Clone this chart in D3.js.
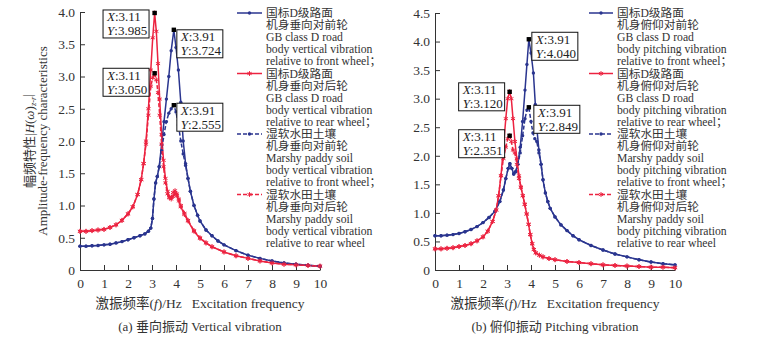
<!DOCTYPE html>
<html>
<head>
<meta charset="utf-8">
<script src="https://cdn.jsdelivr.net/npm/d3@7"></script>
<style>
  body { margin: 0; background: #fff; }
  text { font-family: "Liberation Serif", "Noto Sans CJK SC", serif; fill: #333; }
</style>
</head>
<body>
<div id="chart"></div>
<script>
// ---- data: [frequency Hz, amplitude] ----
// (a) vertical vibration
const vertGbFront = [[0,0.37],[0.25,0.37],[0.5,0.375],[0.75,0.38],[1,0.39],[1.25,0.4],[1.5,0.42],[1.75,0.44],[2,0.47],[2.25,0.5],[2.5,0.53],[2.7,0.56],[2.85,0.6],[2.95,0.65],[3.02,0.8],[3.08,1.1],[3.15,1.35],[3.22,1.45],[3.3,1.6],[3.4,1.95],[3.5,2.3],[3.6,2.65],[3.7,3.0],[3.8,3.4],[3.91,3.724],[4.0,3.45],[4.1,3.1],[4.2,2.6],[4.3,2.0],[4.4,1.65],[4.5,1.42],[4.6,1.22],[4.75,1.0],[4.9,0.85],[5,0.76],[5.25,0.62],[5.5,0.53],[5.75,0.45],[6,0.39],[6.5,0.3],[7,0.23],[7.5,0.18],[8,0.14],[8.5,0.11],[9,0.09],[9.5,0.075],[10,0.06]];
const vertGbRear = [[0,0.6],[0.25,0.6],[0.5,0.61],[0.75,0.62],[1,0.63],[1.25,0.66],[1.5,0.7],[1.75,0.77],[2,0.87],[2.2,0.98],[2.4,1.17],[2.55,1.4],[2.65,1.65],[2.75,2.0],[2.85,2.5],[2.95,3.1],[3.03,3.6],[3.11,3.985],[3.18,3.7],[3.25,3.2],[3.32,2.65],[3.4,2.1],[3.48,1.7],[3.56,1.42],[3.65,1.22],[3.72,1.13],[3.8,1.1],[3.88,1.14],[3.96,1.19],[4.04,1.15],[4.12,1.07],[4.2,0.98],[4.35,0.86],[4.5,0.76],[4.75,0.6],[5,0.49],[5.25,0.42],[5.5,0.36],[6,0.28],[6.5,0.22],[7,0.18],[7.5,0.14],[8,0.11],[8.5,0.09],[9,0.08],[9.5,0.07],[10,0.06]];
const vertSoilFront = [[0,0.37],[0.25,0.37],[0.5,0.375],[0.75,0.38],[1,0.39],[1.25,0.4],[1.5,0.42],[1.75,0.44],[2,0.47],[2.25,0.5],[2.5,0.53],[2.7,0.56],[2.85,0.6],[2.95,0.65],[3.02,0.8],[3.08,1.1],[3.15,1.35],[3.22,1.45],[3.3,1.6],[3.4,1.85],[3.5,2.1],[3.6,2.3],[3.7,2.43],[3.8,2.5],[3.91,2.555],[4.0,2.45],[4.1,2.25],[4.2,2.0],[4.3,1.8],[4.4,1.62],[4.5,1.42],[4.6,1.22],[4.75,1.0],[4.9,0.85],[5,0.76],[5.25,0.62],[5.5,0.53],[5.75,0.45],[6,0.39],[6.5,0.3],[7,0.23],[7.5,0.18],[8,0.14],[8.5,0.11],[9,0.09],[9.5,0.075],[10,0.06]];
const vertSoilRear = [[0,0.6],[0.25,0.6],[0.5,0.61],[0.75,0.62],[1,0.63],[1.25,0.66],[1.5,0.7],[1.75,0.77],[2,0.87],[2.2,0.98],[2.4,1.17],[2.55,1.4],[2.65,1.65],[2.75,1.95],[2.85,2.4],[2.95,2.85],[3.03,2.98],[3.11,3.05],[3.18,2.95],[3.25,2.75],[3.32,2.4],[3.4,1.95],[3.48,1.6],[3.56,1.35],[3.65,1.18],[3.72,1.12],[3.8,1.13],[3.88,1.2],[3.96,1.23],[4.04,1.18],[4.12,1.1],[4.2,1.0],[4.35,0.88],[4.5,0.77],[4.75,0.61],[5,0.5],[5.25,0.42],[5.5,0.36],[6,0.28],[6.5,0.22],[7,0.18],[7.5,0.14],[8,0.11],[8.5,0.09],[9,0.08],[9.5,0.07],[10,0.06]];

// (b) pitching vibration
const pitchGbFront = [[0,0.6],[0.25,0.6],[0.5,0.61],[0.75,0.62],[1,0.64],[1.25,0.67],[1.5,0.71],[1.75,0.76],[2,0.83],[2.25,0.92],[2.5,1.03],[2.7,1.2],[2.85,1.4],[2.95,1.6],[3.05,1.78],[3.12,1.86],[3.2,1.78],[3.28,1.68],[3.36,1.72],[3.45,1.85],[3.55,2.15],[3.65,2.6],[3.75,3.15],[3.83,3.6],[3.91,4.04],[4.0,3.8],[4.1,3.45],[4.18,2.9],[4.25,2.45],[4.33,2.1],[4.42,1.85],[4.5,1.58],[4.6,1.35],[4.7,1.2],[4.8,1.08],[5,0.93],[5.25,0.79],[5.5,0.69],[5.75,0.6],[6,0.53],[6.5,0.43],[7,0.35],[7.5,0.28],[8,0.23],[8.5,0.18],[9,0.14],[9.5,0.11],[10,0.09]];
const pitchGbRear = [[0,0.37],[0.25,0.37],[0.5,0.38],[0.75,0.39],[1,0.41],[1.25,0.43],[1.5,0.46],[1.75,0.51],[2,0.58],[2.2,0.68],[2.4,0.85],[2.55,1.05],[2.65,1.3],[2.75,1.65],[2.85,2.15],[2.95,2.65],[3.03,3.0],[3.11,3.12],[3.18,3.0],[3.25,2.65],[3.33,2.25],[3.41,1.95],[3.5,1.65],[3.58,1.45],[3.66,1.3],[3.74,1.15],[3.82,0.98],[3.9,0.8],[3.97,0.62],[4.05,0.46],[4.12,0.36],[4.2,0.3],[4.35,0.26],[4.5,0.23],[4.75,0.2],[5,0.18],[5.5,0.15],[6,0.13],[6.5,0.11],[7,0.09],[7.5,0.08],[8,0.07],[8.5,0.06],[9,0.05],[9.5,0.05],[10,0.04]];
const pitchSoilFront = [[0,0.6],[0.25,0.6],[0.5,0.61],[0.75,0.62],[1,0.64],[1.25,0.67],[1.5,0.71],[1.75,0.76],[2,0.83],[2.25,0.92],[2.5,1.03],[2.7,1.2],[2.85,1.4],[2.95,1.6],[3.05,1.78],[3.12,1.86],[3.2,1.78],[3.28,1.68],[3.36,1.72],[3.45,1.85],[3.55,2.05],[3.65,2.35],[3.75,2.65],[3.83,2.8],[3.91,2.849],[4.0,2.6],[4.08,2.4],[4.16,2.3],[4.24,2.25],[4.33,2.05],[4.42,1.85],[4.5,1.58],[4.6,1.35],[4.7,1.2],[4.8,1.08],[5,0.93],[5.25,0.79],[5.5,0.69],[5.75,0.6],[6,0.53],[6.5,0.43],[7,0.35],[7.5,0.28],[8,0.23],[8.5,0.18],[9,0.14],[9.5,0.11],[10,0.09]];
const pitchSoilRear = [[0,0.37],[0.25,0.37],[0.5,0.38],[0.75,0.39],[1,0.41],[1.25,0.43],[1.5,0.46],[1.75,0.51],[2,0.58],[2.2,0.68],[2.4,0.85],[2.55,1.05],[2.65,1.3],[2.75,1.65],[2.85,1.95],[2.95,2.15],[3.03,2.3],[3.11,2.351],[3.18,2.25],[3.25,2.1],[3.33,2.05],[3.41,1.85],[3.5,1.6],[3.58,1.45],[3.66,1.3],[3.74,1.15],[3.82,0.98],[3.9,0.8],[3.97,0.62],[4.05,0.46],[4.12,0.36],[4.2,0.3],[4.35,0.26],[4.5,0.23],[4.75,0.2],[5,0.18],[5.5,0.15],[6,0.13],[6.5,0.11],[7,0.09],[7.5,0.08],[8,0.07],[8.5,0.06],[9,0.05],[9.5,0.05],[10,0.04]];

// tick values
const xTicks = [0, 1, 2, 3, 4, 5, 6, 7, 8, 9, 10];
const vertYTicks = [0, 0.5, 1.0, 1.5, 2.0, 2.5, 3.0, 3.5, 4.0];
const pitchYTicks = [0, 0.5, 1.0, 1.5, 2.0, 2.5, 3.0, 3.5, 4.0, 4.5];

// legend texts
const vertLegend = [
  ["国标D级路面", "机身垂向对前轮", "GB class D road", "body vertical vibration", "relative to front wheel；"],
  ["国标D级路面", "机身垂向对后轮", "GB class D road", "body vertical vibration", "relative to rear wheel；"],
  ["湿软水田土壤", "机身垂向对前轮", "Marshy paddy soil", "body vertical vibration", "relative to front wheel；"],
  ["湿软水田土壤", "机身垂向对后轮", "Marshy paddy soil", "body vertical vibration", "relative to rear wheel"]
];
const pitchLegend = [
  ["国标D级路面", "机身俯仰对前轮", "GB class D road", "body pitching vibration", "relative to front wheel；"],
  ["国标D级路面", "机身俯仰对后轮", "GB class D road", "body pitching vibration", "relative to rear wheel；"],
  ["湿软水田土壤", "机身俯仰对前轮", "Marshy paddy soil", "body pitching vibration", "relative to front wheel；"],
  ["湿软水田土壤", "机身俯仰对后轮", "Marshy paddy soil", "body pitching vibration", "relative to rear wheel"]
];

// data tips (peak readouts)
const vertTips = [[3.11, 3.985], [3.91, 3.724], [3.11, 3.050], [3.91, 2.555]];
const pitchTips = [[3.91, 4.040], [3.11, 3.120], [3.91, 2.849], [3.11, 2.351]];

const blue = "#2a358f";
const red = "#ec2340";

const svg = d3.select("#chart").append("svg")
    .attr("width", 772)
    .attr("height", 339);

// panel layout
const panels = [
  {
    series: [vertGbFront, vertGbRear, vertSoilFront, vertSoilRear],
    legend: vertLegend, tips: vertTips, yTicks: vertYTicks, yMax: 4,
    left: 80, right: 320, top: 12, legendLine: [237, 262], legendText: 266,
    // box offsets from the tip point: [dx, dy], dx<0 means box to the left
    tipBox: [[-51.6, -3], [3, 0], [-51.6, -5], [3, -2]],
    caption: "(a) 垂向振动 Vertical vibration"
  },
  {
    series: [pitchGbFront, pitchGbRear, pitchSoilFront, pitchSoilRear],
    legend: pitchLegend, tips: pitchTips, yTicks: pitchYTicks, yMax: 4.5,
    left: 435, right: 675, top: 13, legendLine: [589, 613], legendText: 617,
    tipBox: [[3, -7], [-51, -9], [5, -2], [-51, -6]],
    caption: "(b) 俯仰振动 Pitching vibration"
  }
];
const bottom = 270;
const seriesStyle = [
  { color: blue, dash: null, mark: "dot" },
  { color: red, dash: null, mark: "star" },
  { color: blue, dash: "4,2", mark: "dot" },
  { color: red, dash: "4,2", mark: "star" }
];

const dotSym = d3.symbol(d3.symbolCircle, 9);
const starSym = d3.symbol(d3.symbolAsterisk, 16);

function drawMark(g, style, px, py) {
  if (style.mark === "dot") {
    g.append("path").attr("d", dotSym()).attr("transform", `translate(${px},${py})`)
      .attr("fill", style.color);
  } else {
    g.append("path").attr("d", starSym()).attr("transform", `translate(${px},${py})`)
      .attr("fill", "none").attr("stroke", style.color).attr("stroke-width", 1);
  }
}

panels.forEach(p => {
  const x = d3.scaleLinear().domain([0, 10]).range([p.left, p.right]);
  const y = d3.scaleLinear().domain([0, p.yMax]).range([bottom, p.top]);
  const g = svg.append("g");

  // axes, ticks pointing inward
  const xAxis = g.append("g")
      .attr("transform", `translate(0,${bottom})`)
      .call(d3.axisBottom(x).tickValues(xTicks).tickSizeInner(-5).tickSizeOuter(0)
        .tickPadding(8).tickFormat(d3.format("d")));
  const yAxis = g.append("g")
      .attr("transform", `translate(${p.left},0)`)
      .call(d3.axisLeft(y).tickValues(p.yTicks).tickSizeInner(-5).tickSizeOuter(0)
        .tickPadding(5).tickFormat(d => d === 0 ? "0" : d3.format(".1f")(d)));
  [xAxis, yAxis].forEach(a => {
    a.attr("font-family", null).attr("font-size", 13.5).style("color", "#333");
    a.selectAll("line, path").attr("stroke-width", 1);
  });

  // curves
  const line = d3.line().x(d => x(d[0])).y(d => y(d[1]));
  p.series.forEach((s, i) => {
    const st = seriesStyle[i];
    const sg = g.append("g");
    sg.append("path").datum(s)
      .attr("d", line)
      .attr("fill", "none")
      .attr("stroke", st.color)
      .attr("stroke-width", 1.5)
      .attr("stroke-dasharray", st.dash);
    s.forEach(d => drawMark(sg, st, x(d[0]), y(d[1])));
  });

  // legend
  const lineH = 12.1;
  p.legend.forEach((entry, i) => {
    const st = seriesStyle[i];
    const cy = 13 + i * 5 * lineH;
    g.append("line")
      .attr("x1", p.legendLine[0]).attr("x2", p.legendLine[1])
      .attr("y1", cy).attr("y2", cy)
      .attr("stroke", st.color).attr("stroke-width", 1.5)
      .attr("stroke-dasharray", st.dash);
    drawMark(g, st, (p.legendLine[0] + p.legendLine[1]) / 2, cy);
    entry.forEach((t, j) => {
      g.append("text")
        .attr("x", p.legendText)
        .attr("y", cy + j * lineH)
        .attr("dy", "0.35em")
        .attr("font-size", 11.7)
        .text(t);
    });
  });

  // data tips
  p.tips.forEach((t, i) => {
    const px = x(t[0]), py = y(t[1]);
    const bx = px + p.tipBox[i][0], by = py + p.tipBox[i][1];
    const tg = g.append("g");
    tg.append("rect")
      .attr("x", bx).attr("y", by).attr("width", 46).attr("height", 28)
      .attr("fill", "#fff").attr("stroke", "#111").attr("stroke-width", 1);
    const lines = [["X", d3.format(".2f")(t[0])], ["Y", d3.format(".3f")(t[1])]];
    lines.forEach((l, j) => {
      const tx = tg.append("text")
        .attr("x", bx + 4).attr("y", by + 11.5 + j * 14)
        .attr("font-size", 13).style("fill", "#222");
      tx.append("tspan").attr("font-style", "italic").text(l[0]);
      tx.append("tspan").text(":" + l[1]);
    });
    tg.append("rect")
      .attr("x", px - 2.2).attr("y", py - 2.2).attr("width", 4.4).attr("height", 4.4)
      .attr("fill", "#000");
  });

  // x title and caption
  const cx = (p.left + p.right) / 2;
  const xt = g.append("text").attr("x", cx).attr("y", 307.5)
      .attr("text-anchor", "middle").attr("font-size", 13.5);
  xt.append("tspan").text("激振频率(");
  xt.append("tspan").attr("font-style", "italic").text("f");
  xt.append("tspan").text(")/Hz\u00a0\u00a0\u00a0Excitation frequency");
  g.append("text").attr("x", cx).attr("y", 330.5)
      .attr("text-anchor", "middle").attr("font-size", 13)
      .text(p.caption);
});

// y axis title of panel (a)
const yMid = (bottom + panels[0].top) / 2;
const ycn = svg.append("text")
    .attr("transform", `translate(29,${yMid}) rotate(-90)`)
    .attr("text-anchor", "middle").attr("dy", "0.35em").attr("font-size", 13);
ycn.append("tspan").text("幅频特性|");
ycn.append("tspan").attr("font-style", "italic").text("H");
ycn.append("tspan").text("(");
ycn.append("tspan").attr("font-style", "italic").text("ω");
ycn.append("tspan").text(")");
ycn.append("tspan").attr("font-size", 8.5).attr("dy", "0.3em").attr("font-style", "italic").text("z-r");
ycn.append("tspan").attr("dy", "-0.3em").text("|");
svg.append("text")
    .attr("transform", `translate(42,${yMid}) rotate(-90)`)
    .attr("text-anchor", "middle").attr("dy", "0.35em").attr("font-size", 13)
    .text("Amplitude-frequency characteristics");
</script>
</body>
</html>
